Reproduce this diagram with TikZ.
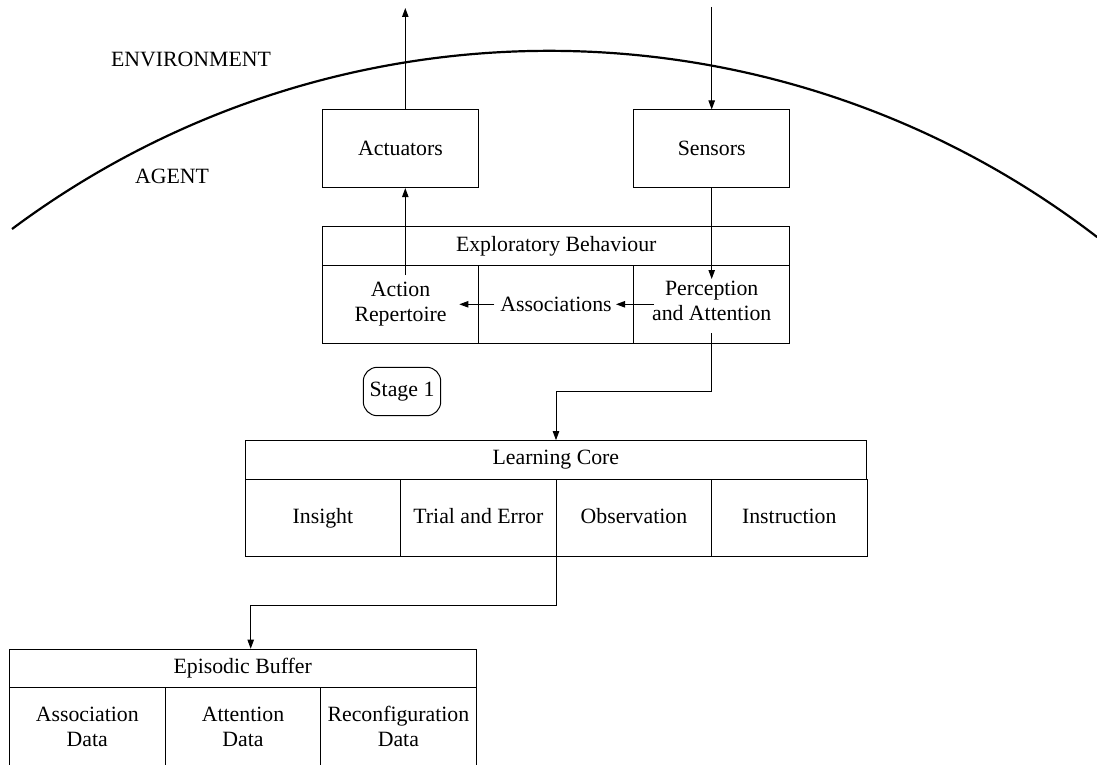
\documentclass[tikz,border=0pt]{standalone}
\usepackage{fontspec}
\setmainfont{Liberation Serif}
\usetikzlibrary{arrows.meta}
\begin{document}
\begin{tikzpicture}[x=0.5pt,y=-0.5pt,
  font=\fontsize{10.9}{12.5}\selectfont,
  cell/.style={draw, line width=0.5pt, rectangle, minimum width=77.8pt, minimum height=38.8pt, inner sep=0pt, align=center},
  head/.style={draw, line width=0.5pt, rectangle, minimum width=233.4pt, minimum height=19.3pt, inner sep=0pt, align=center},
  widehead/.style={head, minimum width=310.9pt},
  flow/.style={line width=0.5pt, -{Triangle[length=4.5pt,width=3.2pt]}},
  boundary/.style={line width=1.1pt},
  stagebox/.style={draw, line width=0.5pt, rounded corners=7pt, minimum width=38.7pt, minimum height=24.2pt, inner sep=0pt}
]
\useasboundingbox (0,0) rectangle (1097,765);

% agent / environment boundary
\draw[boundary] (12,229) arc[start angle=-126.7, end angle=-52.45, radius=899];
\node (env) at (191,59) {ENVIRONMENT};
\node (agent) at (172,176) {AGENT};

% interface boxes
\node[cell] (act) at (400.5,148.8) {Actuators};
\node[cell] (sens) at (711.7,148.8) {Sensors};

% stage 1: exploratory behaviour
\node[head] (eb) at (556.2,246) {Exploratory Behaviour};
\node[cell] (ar) at (400.5,304.3) {Action\\Repertoire};
\node[cell] (as) at (556,304.3) {Associations};
\node[cell] (pa) at (711.7,304.3) {Perception\\\strut and Attention};

\node[stagebox] (stage) at (402,391.5) {Stage 1};

% learning core
\node[widehead] (lc) at (555.9,460) {Learning Core};
\node[cell] (lc1) at (322.9,518) {\strut Insight};
\node[cell] (lc2) at (478.4,518) {\strut Trial and Error};
\node[cell] (lc3) at (633.9,518) {\strut Observation};
\node[cell] (lc4) at (789.3,518) {\strut Instruction};

% episodic buffer
\node[head] (buf) at (242.7,668.5) {Episodic Buffer};
\node[cell] (bf1) at (87.3,726.5) {Association\\Data};
\node[cell] (bf2) at (243,726.5) {Attention\\Data};
\node[cell] (bf3) at (398.4,726.5) {Reconfiguration\\Data};

% free ends and bends of the connectors
\coordinate (out) at (405.3,8);
\coordinate (in) at (711.7,7);
\coordinate (arout) at (405.3,275);
\coordinate (pain) at (711.7,279);
\coordinate (paw) at (654,304.3);
\coordinate (ase) at (616,304.3);
\coordinate (asw) at (494.3,304.3);
\coordinate (are) at (459.3,304.3);
\coordinate (paout) at (711.7,333);
\coordinate (bendA) at (556,391.7);
\coordinate (bendB) at (250.7,605);

% connectors
\draw[flow] (act.north -| out) -- (out);
\draw[flow] (in) -- (sens.north);
\draw[flow] (arout) -- (act.south -| arout);
\draw[flow] (sens.south) -- (pain);
\draw[flow] (paw) -- (ase);
\draw[flow] (asw) -- (are);
\draw[flow] (paout) |- (bendA) -- (lc.north -| bendA);
\draw[flow] (lc2.south east) |- (bendB) -- (buf.north -| bendB);
\end{tikzpicture}
\end{document}
